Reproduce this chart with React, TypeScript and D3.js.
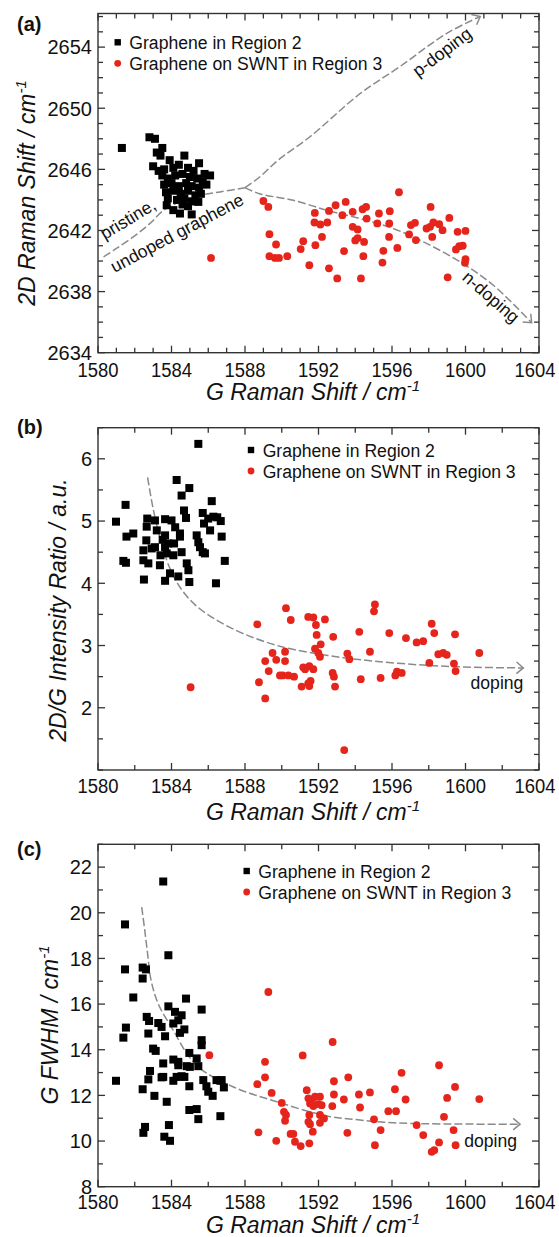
import React from 'react';
import * as d3 from 'd3';

const W = 559, H = 1237;
const X0 = 98, X1 = 539;
const FONT = '"Liberation Sans", Arial, Helvetica, sans-serif';
const RED = '#e5241c';
const GREY = '#8a8a8a';
const AXIS = '#333';

const xTickLabels = [1580, 1584, 1588, 1592, 1596, 1600, 1604];
const legendNames = ['Graphene in Region 2', 'Graphene on SWNT in Region 3'];

// ---- panel (a): 2D shift vs G shift
const yTicksA = [2634, 2638, 2642, 2646, 2650, 2654];
const blackA: [number, number][] = [
  [1581.3, 2647.4], [1582.8, 2648.1], [1583.1, 2648.0], [1583.2, 2647.1], [1583.5, 2647.4], [1583.4, 2646.9],
  [1583.0, 2646.2], [1583.9, 2646.6], [1584.7, 2646.9], [1585.5, 2646.4], [1583.3, 2645.9], [1583.6, 2646.0],
  [1584.1, 2646.1], [1584.4, 2646.3], [1584.9, 2646.1], [1585.2, 2645.9], [1585.8, 2645.7], [1586.1, 2645.6],
  [1583.5, 2645.6], [1583.8, 2645.4], [1584.2, 2645.6], [1584.6, 2645.7], [1585.0, 2645.5], [1585.4, 2645.4],
  [1585.7, 2645.2], [1583.6, 2645.0], [1584.0, 2645.1], [1584.4, 2644.9], [1584.8, 2645.1], [1585.1, 2644.9],
  [1585.5, 2644.8], [1585.9, 2645.0], [1583.7, 2644.5], [1584.1, 2644.6], [1584.5, 2644.4], [1584.9, 2644.6],
  [1585.3, 2644.3], [1585.6, 2644.4], [1584.2, 2644.85], [1583.8, 2644.1], [1584.3, 2644.0], [1584.7, 2644.1],
  [1585.1, 2643.9], [1585.46, 2643.87], [1583.74, 2643.65], [1584.1, 2643.33], [1584.46, 2643.11],
  [1584.9, 2643.59], [1585.1, 2643.05], [1584.6, 2643.7],
];
const redA: [number, number][] = [
  [1586.15, 2640.2], [1589.0, 2643.93], [1589.27, 2643.54], [1589.33, 2641.76], [1589.69, 2641.08],
  [1589.33, 2640.32], [1589.63, 2640.2], [1589.85, 2640.2], [1590.3, 2640.32], [1591.03, 2640.78],
  [1591.17, 2641.3], [1591.5, 2639.73], [1591.8, 2643.15], [1591.78, 2642.52], [1592.1, 2642.39],
  [1592.48, 2642.52], [1592.57, 2643.28], [1592.19, 2641.58], [1591.83, 2641.04], [1592.57, 2639.52],
  [1592.93, 2643.65], [1593.02, 2638.86], [1593.3, 2643.0], [1593.39, 2640.65], [1593.48, 2643.87],
  [1593.86, 2643.22], [1593.86, 2642.24], [1594.13, 2642.07], [1594.0, 2641.35], [1594.13, 2641.5],
  [1594.48, 2641.25], [1594.44, 2640.32], [1594.31, 2638.86], [1594.4, 2643.39], [1594.59, 2643.54],
  [1594.62, 2642.78], [1595.2, 2642.46], [1595.29, 2643.11], [1595.84, 2641.58], [1595.53, 2640.67],
  [1595.48, 2639.9], [1595.88, 2643.26], [1595.85, 2642.46], [1596.38, 2644.5], [1596.29, 2640.86],
  [1596.93, 2641.74], [1597.03, 2642.35], [1597.25, 2642.5], [1597.3, 2641.37], [1598.1, 2643.54],
  [1597.88, 2642.13], [1598.07, 2642.24], [1598.25, 2642.52], [1598.57, 2642.41], [1598.19, 2641.58],
  [1598.75, 2642.02], [1599.12, 2642.82], [1599.03, 2638.93], [1599.57, 2641.91], [1600.0, 2641.97],
  [1599.48, 2640.76], [1599.66, 2640.97], [1599.85, 2641.0], [1600.0, 2640.12], [1599.97, 2639.88],
];
const pristineLine: [number, number][] = [
  [1580.3, 2640.27], [1581.0, 2640.82], [1581.92, 2641.58], [1582.83, 2642.46], [1583.55, 2643.3],
  [1584.46, 2643.87], [1585.55, 2644.3], [1586.64, 2644.52], [1588.0, 2644.8],
];
const pDopingLine: [number, number][] = [
  [1588.0, 2644.8], [1588.8, 2645.5], [1589.8, 2646.6], [1591.5, 2648.1], [1594.26, 2650.95],
  [1596.4, 2652.7], [1598.98, 2654.9], [1600.8, 2656.0],
];
const nDopingLine: [number, number][] = [
  [1588.0, 2644.8], [1588.8, 2644.4], [1590.63, 2643.98], [1592.44, 2643.33], [1594.26, 2642.78],
  [1596.07, 2642.13], [1597.88, 2641.15], [1599.7, 2639.95], [1601.5, 2638.43], [1603.6, 2635.96],
];

// ---- panel (b): 2D/G intensity ratio
const yTicksB = [2, 3, 4, 5, 6];
const blackB: [number, number][] = [
  [1585.46, 6.24], [1580.98, 4.99], [1581.5, 5.26], [1581.55, 4.75], [1581.92, 4.8], [1581.38, 4.36],
  [1581.52, 4.33], [1582.5, 4.06], [1582.47, 4.53], [1582.63, 4.69], [1582.68, 5.04], [1583.1, 5.01],
  [1582.65, 4.91], [1582.47, 4.37], [1582.74, 4.32], [1582.92, 4.56], [1583.1, 4.58], [1583.37, 4.29],
  [1583.65, 4.77], [1583.52, 4.7], [1583.65, 5.03], [1584.0, 5.01], [1583.65, 4.58], [1583.83, 4.64],
  [1584.14, 4.64], [1583.74, 4.48], [1584.1, 4.45], [1584.55, 4.5], [1583.92, 4.16], [1584.37, 4.11],
  [1583.65, 4.04], [1584.28, 5.66], [1584.55, 5.41], [1584.97, 5.53], [1584.68, 5.17], [1584.79, 5.05],
  [1584.46, 4.8], [1584.46, 4.75], [1584.83, 4.32], [1584.92, 4.21], [1584.97, 4.02], [1585.37, 4.77],
  [1585.46, 4.66], [1585.55, 4.58], [1585.7, 4.5], [1585.82, 4.48], [1586.19, 5.32], [1585.7, 5.13],
  [1586.0, 5.04], [1586.28, 5.07], [1586.49, 5.06], [1586.68, 5.0], [1585.77, 4.96], [1586.1, 4.85],
  [1586.73, 4.75], [1586.42, 4.0], [1586.9, 4.36], [1583.2, 4.85], [1584.2, 4.9], [1583.4, 4.45],
];
const redB: [number, number][] = [
  [1585.04, 2.33], [1588.67, 3.34], [1589.1, 2.75], [1589.5, 2.88], [1589.7, 2.77], [1589.29, 2.59],
  [1588.76, 2.41], [1589.1, 2.15], [1589.9, 2.52], [1590.18, 2.9], [1590.18, 2.75], [1590.23, 3.6],
  [1590.49, 3.41], [1590.05, 2.52], [1590.36, 2.52], [1590.67, 2.5], [1591.08, 2.34], [1591.5, 2.35],
  [1591.57, 2.43], [1591.44, 2.39], [1591.17, 2.65], [1591.5, 2.67], [1591.72, 2.62], [1591.27, 2.62],
  [1591.44, 3.46], [1591.72, 3.45], [1592.35, 3.42], [1591.86, 3.33], [1591.9, 3.17], [1592.12, 3.02],
  [1591.81, 2.95], [1592.08, 2.82], [1591.99, 2.88], [1592.8, 3.14], [1592.77, 2.56], [1592.84, 2.5],
  [1592.9, 2.34], [1593.57, 2.87], [1593.68, 2.78], [1593.4, 1.32], [1594.22, 3.22], [1594.3, 2.46],
  [1594.8, 2.9], [1595.07, 3.66], [1595.02, 3.55], [1595.38, 2.48], [1595.85, 3.2], [1596.18, 2.52],
  [1596.27, 2.58], [1596.53, 2.56], [1596.76, 3.12], [1597.34, 3.05], [1597.7, 3.07], [1598.03, 2.72],
  [1598.16, 3.35], [1598.3, 3.2], [1598.52, 2.86], [1598.79, 2.88], [1598.98, 2.85], [1599.43, 3.18],
  [1599.37, 2.71], [1599.46, 2.59], [1600.75, 2.88],
];
const dopingLineB: [number, number][] = [
  [1582.7, 5.7], [1583.0, 5.2], [1583.4, 4.7], [1583.9, 4.25], [1584.5, 3.92], [1585.3, 3.65],
  [1586.5, 3.4], [1588.0, 3.18], [1590.0, 2.98], [1592.5, 2.84], [1595.0, 2.75], [1598.0, 2.68],
  [1600.6, 2.65], [1603.15, 2.64],
];

// ---- panel (c): G FWHM
const yTicksC = [8, 10, 12, 14, 16, 18, 20, 22];
const blackC: [number, number][] = [
  [1583.55, 21.37], [1581.47, 19.49], [1583.83, 18.14], [1581.47, 17.52], [1582.43, 17.6], [1582.61, 17.52],
  [1582.43, 17.12], [1581.92, 16.29], [1584.79, 16.24], [1585.64, 15.76], [1583.83, 15.9], [1584.19, 15.66],
  [1584.55, 15.51], [1584.37, 15.29], [1582.65, 15.44], [1582.78, 15.26], [1583.28, 15.17], [1583.46, 15.0],
  [1584.1, 15.15], [1581.52, 14.97], [1581.38, 14.53], [1582.74, 14.71], [1583.65, 14.59], [1584.46, 14.74],
  [1584.7, 14.89], [1585.64, 14.42], [1585.64, 14.2], [1583.0, 14.05], [1583.14, 13.95], [1584.97, 13.86],
  [1583.55, 13.4], [1584.1, 13.57], [1584.37, 13.47], [1584.37, 13.32], [1584.83, 13.28], [1585.0, 13.25],
  [1585.37, 13.62], [1585.46, 13.28], [1582.83, 13.07], [1582.74, 12.7], [1583.46, 12.79], [1583.55, 12.81],
  [1584.28, 12.81], [1584.1, 12.64], [1584.55, 12.84], [1584.7, 12.81], [1584.97, 12.4], [1585.73, 12.67],
  [1585.9, 12.4], [1586.0, 12.16], [1586.24, 11.98], [1586.45, 12.67], [1586.66, 12.64], [1586.85, 12.35],
  [1586.73, 12.67], [1580.98, 12.64], [1582.43, 12.27], [1583.07, 11.98], [1583.74, 11.72], [1584.97, 11.36],
  [1585.37, 11.4], [1585.46, 10.96], [1586.66, 11.09], [1582.56, 10.62], [1582.47, 10.36], [1583.86, 10.7],
  [1583.61, 10.19], [1583.92, 10.01],
];
const redC: [number, number][] = [
  [1589.27, 16.53], [1586.06, 13.76], [1589.09, 13.47], [1589.09, 12.79], [1588.67, 12.49], [1589.45, 12.11],
  [1588.73, 10.38], [1589.7, 10.01], [1590.0, 11.67], [1590.12, 11.28], [1590.23, 11.14], [1590.18, 10.89],
  [1590.48, 10.31], [1590.72, 9.97], [1591.03, 9.78], [1590.63, 10.31], [1591.14, 13.75], [1591.36, 12.23],
  [1591.45, 11.87], [1591.63, 11.79], [1591.81, 11.94], [1592.08, 11.94], [1591.54, 11.65], [1591.72, 11.53],
  [1591.99, 11.62], [1592.17, 11.57], [1591.5, 11.14], [1591.45, 10.84], [1591.54, 10.74], [1591.69, 10.41],
  [1591.5, 9.9], [1592.08, 11.14], [1592.08, 10.8], [1592.3, 10.99], [1592.77, 14.34], [1592.84, 12.62],
  [1592.84, 12.04], [1592.75, 11.53], [1593.38, 11.82], [1593.62, 12.79], [1593.57, 10.36], [1594.2, 12.04],
  [1594.26, 11.47], [1594.8, 12.13], [1595.02, 10.95], [1595.38, 10.48], [1595.07, 9.82], [1595.8, 11.31],
  [1596.22, 11.31], [1596.16, 12.27], [1596.52, 12.99], [1596.74, 11.82], [1597.34, 10.7], [1597.7, 10.26],
  [1598.16, 9.53], [1598.3, 9.6], [1598.56, 9.94], [1598.56, 13.32], [1598.83, 11.06], [1599.0, 11.89],
  [1599.43, 12.37], [1599.35, 10.48], [1599.46, 9.82], [1600.75, 11.84],
];
const dopingLineC: [number, number][] = [
  [1582.38, 20.25], [1582.55, 19.2], [1582.7, 18.2], [1582.85, 17.2], [1583.1, 16.4], [1583.4, 15.8],
  [1584.1, 14.85], [1584.83, 13.84], [1585.55, 13.18], [1587.37, 12.37], [1589.73, 11.72], [1592.45, 11.1],
  [1594.26, 10.92], [1596.07, 10.8], [1598.79, 10.75], [1602.97, 10.74],
];

const x = d3.scaleLinear().domain([1580, 1604]).range([X0, X1]);

type Pt = [number, number];

function Arrow({ pts, y }: { pts: Pt[]; y: d3.ScaleLinear<number, number> }) {
  const line = d3.line<Pt>().x(d => x(d[0])).y(d => y(d[1])).curve(d3.curveCatmullRom.alpha(0.5));
  const n = pts.length;
  const x2 = x(pts[n - 1][0]), y2 = y(pts[n - 1][1]);
  const x1 = x(pts[n - 2][0]), y1 = y(pts[n - 2][1]);
  const a = Math.atan2(y2 - y1, x2 - x1);
  const s = 9, w = (140 * Math.PI) / 180;
  const head = `M${x2 + s * Math.cos(a + w)},${y2 + s * Math.sin(a + w)}L${x2},${y2}L${x2 + s * Math.cos(a - w)},${y2 + s * Math.sin(a - w)}`;
  return (
    <g stroke={GREY} fill="none" strokeWidth={1.5}>
      <path d={line(pts) || ''} strokeDasharray="8 3" />
      <path d={head} />
    </g>
  );
}

function Line({ pts, y }: { pts: Pt[]; y: d3.ScaleLinear<number, number> }) {
  const line = d3.line<Pt>().x(d => x(d[0])).y(d => y(d[1])).curve(d3.curveCatmullRom.alpha(0.5));
  return <path d={line(pts) || ''} stroke={GREY} fill="none" strokeWidth={1.5} strokeDasharray="8 3" />;
}

function Frame(props: {
  top: number; bottom: number; y: d3.ScaleLinear<number, number>;
  xStep: number; yStepL: number; yStepR: number; yLabels: number[]; xLabelDy: number;
}) {
  const { top, bottom, y, xStep, yStepL, yStepR, yLabels, xLabelDy } = props;
  const [ya, yb] = y.domain();
  const xs = d3.range(1580, 1604.001, xStep);
  const isMajX = (v: number) => Math.abs((v - 1580) % 4) < 1e-6;
  const isMajY = (v: number) => yLabels.some(l => Math.abs(l - v) < 1e-6);
  const ysL = d3.range(Math.ceil(ya / yStepL) * yStepL, yb + 1e-6, yStepL);
  const ysR = d3.range(Math.ceil(ya / yStepR) * yStepR, yb + 1e-6, yStepR);
  return (
    <g>
      <g stroke={AXIS} strokeWidth={1.3}>
        {xs.map(v => {
          const l = isMajX(v) ? 7 : 5;
          return (
            <g key={'x' + v}>
              <line x1={x(v)} x2={x(v)} y1={bottom} y2={bottom - l} />
              <line x1={x(v)} x2={x(v)} y1={top} y2={top + l} />
            </g>
          );
        })}
        {ysL.map(v => (
          <line key={'l' + v} x1={X0} x2={X0 + (isMajY(v) ? 7 : 5)} y1={y(v)} y2={y(v)} />
        ))}
        {ysR.map(v => (
          <line key={'r' + v} x1={X1} x2={X1 - (isMajY(v) ? 7 : 5)} y1={y(v)} y2={y(v)} />
        ))}
      </g>
      <rect x={X0} y={top} width={X1 - X0} height={bottom - top} fill="none" stroke={AXIS} strokeWidth={1.4} />
      <g fontFamily={FONT} fontSize={20} fill="#111">
        {xTickLabels.map(v => (
          <text key={'xl' + v} x={Math.min(x(v), 535)} y={bottom + xLabelDy} textAnchor="middle"
            textLength={41} lengthAdjust="spacingAndGlyphs">{v}</text>
        ))}
        {yLabels.map(v => (
          <text key={'yl' + v} x={X0 - 6} y={y(v) + 7.3} textAnchor="end">{v}</text>
        ))}
      </g>
    </g>
  );
}

function Points({ black, red, y }: { black: Pt[]; red: Pt[]; y: d3.ScaleLinear<number, number> }) {
  return (
    <g>
      {black.map((d, i) => (
        <rect key={'b' + i} x={x(d[0]) - 4} y={y(d[1]) - 4} width={8} height={8} fill="#000" />
      ))}
      {red.map((d, i) => (
        <circle key={'r' + i} cx={x(d[0])} cy={y(d[1])} r={3.9} fill={RED} />
      ))}
    </g>
  );
}

function Legend({ mx, my, tx }: { mx: number; my: number; tx: number }) {
  return (
    <g fontFamily={FONT} fontSize={17.6} fill="#111">
      <rect x={mx - 3.2} y={my - 3.2} width={6.4} height={6.4} fill="#000" />
      <text x={tx} y={my + 6.6}>{legendNames[0]}</text>
      <circle cx={mx} cy={my + 21} r={3.4} fill={RED} />
      <text x={tx} y={my + 21 + 6.6}>{legendNames[1]}</text>
    </g>
  );
}

function XTitle({ yb }: { yb: number }) {
  return (
    <text x={313} y={yb} textAnchor="middle" fontFamily={FONT} fontSize={23} fontStyle="italic" fill="#111">
      G Raman Shift / cm<tspan fontSize={15} dy={-9}>-1</tspan>
    </text>
  );
}

function YTitle({ xb, yc, label, sup }: { xb: number; yc: number; label: string; sup?: boolean }) {
  return (
    <text transform={`translate(${xb},${yc}) rotate(-90)`} textAnchor="middle" fontFamily={FONT}
      fontSize={23} fontStyle="italic" fill="#111">
      {label}{sup ? <tspan fontSize={15} dy={-9}>-1</tspan> : null}
    </text>
  );
}

function PanelLabel({ t, yb }: { t: string; yb: number }) {
  return <text x={17} y={yb} fontFamily={FONT} fontSize={20} fontWeight="bold" fill="#111">{t}</text>;
}

export default function App() {
  const yA = d3.scaleLinear().domain([2634, 2656.2]).range([352.7, 13.5]);
  const yB = d3.scaleLinear().domain([1, 6.5]).range([770, 427.7]);
  const yC = d3.scaleLinear().domain([8, 23]).range([1186.7, 844.3]);
  const ann = { fontFamily: FONT, fontSize: 17.6, fill: '#111' } as const;
  return (
    <div style={{ position: 'absolute', left: 0, top: 0 }}>
      <svg width={W} height={H} style={{ display: 'block', background: '#fff' }}>
        {/* (a) */}
        <Frame top={13.5} bottom={352.7} y={yA} xStep={1} yStepL={1} yStepR={1} yLabels={yTicksA} xLabelDy={24} />
        <Line pts={pristineLine} y={yA} />
        <Arrow pts={pDopingLine} y={yA} />
        <Arrow pts={nDopingLine} y={yA} />
        <Points black={blackA} red={redA} y={yA} />
        <Legend mx={117.7} my={42.3} tx={129.3} />
        <text {...ann} transform="translate(128,219) rotate(-31)" textAnchor="middle" dominantBaseline="central">pristine,</text>
        <text {...ann} transform="translate(177,233) rotate(-28)" textAnchor="middle" dominantBaseline="central">undoped graphene</text>
        <text {...ann} transform="translate(442,52) rotate(-37)" textAnchor="middle" dominantBaseline="central">p-doping</text>
        <text {...ann} transform="translate(491,297) rotate(41)" textAnchor="middle" dominantBaseline="central">n-doping</text>
        <PanelLabel t="(a)" yb={31} />
        <XTitle yb={400} />
        <YTitle xb={35} yc={193} label="2D Raman Shift / cm" sup />

        {/* (b) */}
        <Frame top={427.7} bottom={770} y={yB} xStep={2} yStepL={0.5} yStepR={0.25} yLabels={yTicksB} xLabelDy={23} />
        <Arrow pts={dopingLineB} y={yB} />
        <Points black={blackB} red={redB} y={yB} />
        <Legend mx={251} my={450} tx={262.7} />
        <text {...ann} x={x(1603.15)} y={yB(2.64) + 21} textAnchor="end">doping</text>
        <PanelLabel t="(b)" yb={433.5} />
        <XTitle yb={820} />
        <YTitle xb={66} yc={610} label="2D/G Intensity Ratio / a.u." />

        {/* (c) */}
        <Frame top={844.3} bottom={1186.7} y={yC} xStep={2} yStepL={1} yStepR={1} yLabels={yTicksC} xLabelDy={22} />
        <Arrow pts={dopingLineC} y={yC} />
        <Points black={blackC} red={redC} y={yC} />
        <Legend mx={246.7} my={871} tx={258.3} />
        <text {...ann} x={x(1602.97) - 3} y={yC(10.74) + 23} textAnchor="end">doping</text>
        <PanelLabel t="(c)" yb={856} />
        <XTitle yb={1233} />
        <YTitle xb={58} yc={1025} label="G FWHM / cm" sup />
      </svg>
    </div>
  );
}
